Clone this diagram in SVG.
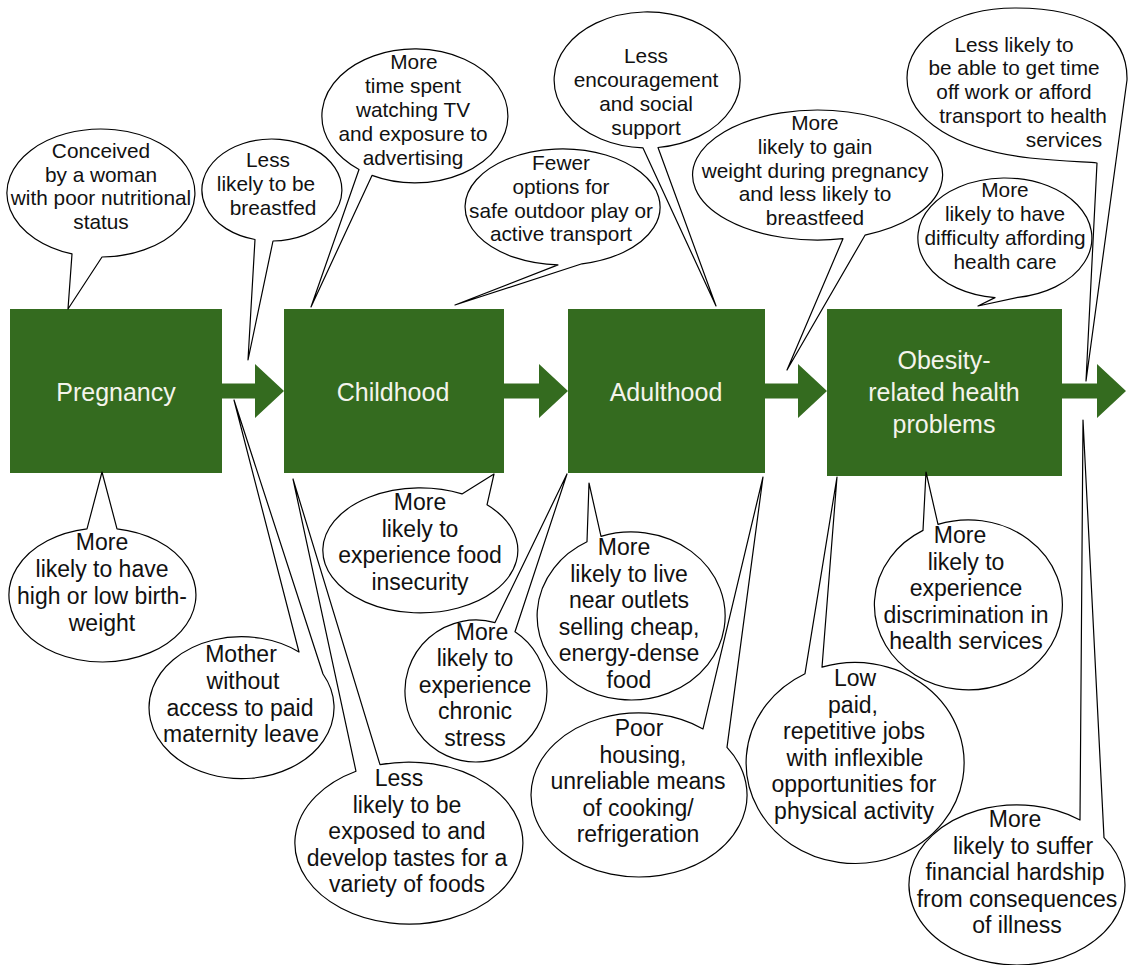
<svg xmlns="http://www.w3.org/2000/svg" width="1132" height="965" viewBox="0 0 1132 965">
<style>
.box{fill:#346b1f}
.lbl{font-family:"Liberation Sans",Arial,sans-serif;font-size:25px;fill:#f4f4ec;text-anchor:middle}
.bub{fill:none;stroke:#000;stroke-width:1.2;stroke-linejoin:round}
.tt{font-family:"Liberation Sans",Arial,sans-serif;font-size:20.8px;fill:#111;text-anchor:middle}
.bt{font-family:"Liberation Sans",Arial,sans-serif;font-size:23px;fill:#111;text-anchor:middle}
</style>
<rect width="1132" height="965" fill="#fff"/>
<g id="connectors" class="box">
<polygon points="222,383.5 255,383.5 255,364 284,391 255,418 255,398.5 222,398.5"/>
<polygon points="504,383.5 539,383.5 539,364 568,391 539,418 539,398.5 504,398.5"/>
<polygon points="765,383.5 798,383.5 798,364 827,391 798,418 798,398.5 765,398.5"/>
<polygon points="1062,383.5 1097,383.5 1097,364 1126,391 1097,418 1097,398.5 1062,398.5"/>
</g>
<g id="pregnancy"><rect class="box" x="10" y="309" width="212" height="164"/><text class="lbl" x="116" y="401">Pregnancy</text></g>
<g id="childhood"><rect class="box" x="284" y="309" width="220" height="164"/><text class="lbl" x="393" y="401">Childhood</text></g>
<g id="adulthood"><rect class="box" x="568" y="309" width="197" height="164"/><text class="lbl" x="666" y="401">Adulthood</text></g>
<g id="obesity"><rect class="box" x="827" y="309" width="235" height="167"/><text class="lbl"><tspan x="944" y="369">Obesity-</tspan><tspan x="944" y="401">related health</tspan><tspan x="944" y="433">problems</tspan></text></g>

<g id="b1"><path class="bub" d="M72,253.9 A94,64 0 1 1 102,257 L68,309 Z"/><text class="tt"><tspan x="101" y="158">Conceived</tspan><tspan x="101" y="181.5">by a woman</tspan><tspan x="101" y="205">with poor nutritional</tspan><tspan x="101" y="228.5">status</tspan></text></g>
<g id="b2"><path class="bub" d="M255,239.5 A70,51 0 1 1 273,241 L248,360 Z"/><text class="tt"><tspan x="268" y="167">Less</tspan><tspan x="266" y="191">likely to be</tspan><tspan x="273" y="215">breastfed</tspan></text></g>
<g id="b3"><path class="bub" d="M359,169.5 A93,67 0 1 1 372,175.4 L311,307 Z"/><text class="tt"><tspan x="414" y="68.5">More</tspan><tspan x="413" y="93">time spent</tspan><tspan x="413" y="117">watching TV</tspan><tspan x="413" y="141">and exposure to</tspan><tspan x="413" y="165">advertising</tspan></text></g>
<g id="b4"><path class="bub" d="M558,264.9 A97.5,58 0 1 1 582,263.8 L455,305 Z"/><text class="tt"><tspan x="561" y="169.5">Fewer</tspan><tspan x="561" y="193.5">options for</tspan><tspan x="561" y="217.5">safe outdoor play or</tspan><tspan x="561" y="241">active transport</tspan></text></g>
<g id="b5"><path class="bub" d="M643,147.9 A93,68 0 1 1 658,147.5 L716,306 Z"/><text class="tt"><tspan x="646" y="62.5">Less</tspan><tspan x="646" y="86.5">encouragement</tspan><tspan x="646" y="110.5">and social</tspan><tspan x="646" y="134.5">support</tspan></text></g>
<g id="b6"><path class="bub" d="M843,238.7 A125,65 0 1 1 865,235.2 L787,370 Z"/><text class="tt"><tspan x="815" y="129.5">More</tspan><tspan x="815" y="153.5">likely to gain</tspan><tspan x="815" y="177.5">weight during pregnancy</tspan><tspan x="815" y="201">and less likely to</tspan><tspan x="815" y="225">breastfeed</tspan></text></g>
<g id="b7"><path class="bub" d="M1127,80 C1128,35 1090,8 1015,8 C955,8 907,38 907,78 C907,122 960,150 1030,158 C1060,161 1085,162 1097,163 L1086,381 Z"/><text class="tt"><tspan x="1014" y="51.5">Less likely to</tspan><tspan x="1014" y="75">be able to get time</tspan><tspan x="1014" y="99">off work or afford</tspan><tspan x="1023" y="123">transport to health</tspan><tspan x="1064" y="147">services</tspan></text></g>
<g id="b8"><path class="bub" d="M995,297.6 A87,60 0 1 1 1018,297.3 L978,306 Z"/><text class="tt"><tspan x="1005" y="196.5">More</tspan><tspan x="1005" y="220.5">likely to have</tspan><tspan x="1005" y="244.5">difficulty affording</tspan><tspan x="1005" y="268.5">health care</tspan></text></g>

<g id="b9"><path class="bub" d="M117,528.8 A93.5,67 0 1 1 87,528.9 L102,472 Z"/><text class="bt"><tspan x="102" y="550">More</tspan><tspan x="102" y="577">likely to have</tspan><tspan x="102" y="604">high or low birth-</tspan><tspan x="102" y="631">weight</tspan></text></g>
<g id="b10"><path class="bub" d="M323,674 A92.5,71 0 1 1 299,652 L234,400 Z"/><text class="bt"><tspan x="241" y="662">Mother</tspan><tspan x="243" y="689">without</tspan><tspan x="240" y="716">access to paid</tspan><tspan x="241" y="742">maternity leave</tspan></text></g>
<g id="b11"><path class="bub" d="M380,764.7 A114,81 0 1 1 356,771.3 L293,479 Z"/><text class="bt"><tspan x="399" y="786">Less</tspan><tspan x="407" y="812.5">likely to be</tspan><tspan x="407" y="839">exposed to and</tspan><tspan x="407" y="865.5">develop tastes for a</tspan><tspan x="407" y="892">variety of foods</tspan></text></g>
<g id="b12"><path class="bub" d="M487,504.8 A97.5,62.5 0 1 1 462,493.9 L494,474 Z"/><text class="bt"><tspan x="420" y="510">More</tspan><tspan x="420" y="536.5">likely to</tspan><tspan x="420" y="563">experience food</tspan><tspan x="420" y="589.5">insecurity</tspan></text></g>
<g id="b13"><path class="bub" d="M515,631.7 A71,71 0 1 1 495,622.6 L567,474 Z"/><text class="bt"><tspan x="482" y="639.5">More</tspan><tspan x="475" y="666">likely to</tspan><tspan x="475" y="692.5">experience</tspan><tspan x="475" y="719">chronic</tspan><tspan x="475" y="745.5">stress</tspan></text></g>
<g id="b14"><path class="bub" d="M601,536.4 A94,84 0 1 1 587,541.8 L589,483 Z"/><text class="bt"><tspan x="624" y="555">More</tspan><tspan x="629" y="581.5">likely to live</tspan><tspan x="629" y="608">near outlets</tspan><tspan x="629" y="634.5">selling cheap,</tspan><tspan x="629" y="661">energy-dense</tspan><tspan x="629" y="687.5">food</tspan></text></g>
<g id="b15"><path class="bub" d="M727,747.4 A108,82 0 1 1 703,728.9 L763,477 Z"/><text class="bt"><tspan x="639" y="736">Poor</tspan><tspan x="643" y="762.5">housing,</tspan><tspan x="638" y="789">unreliable means</tspan><tspan x="638" y="815.5">of cooking/</tspan><tspan x="638" y="842">refrigeration</tspan></text></g>
<g id="b16"><path class="bub" d="M822,667.2 A109,100.5 0 1 1 805,673.7 L837,477 Z"/><text class="bt"><tspan x="855" y="686">Low</tspan><tspan x="853" y="712.5">paid,</tspan><tspan x="854" y="739">repetitive jobs</tspan><tspan x="855" y="765.5">with inflexible</tspan><tspan x="854" y="792">opportunities for</tspan><tspan x="854" y="818.5">physical activity</tspan></text></g>
<g id="b17"><path class="bub" d="M938,524.4 A94,85 0 1 1 923,530.4 L926,472 Z"/><text class="bt"><tspan x="960" y="543">More</tspan><tspan x="966" y="569.5">likely to</tspan><tspan x="966" y="596">experience</tspan><tspan x="966" y="622.5">discrimination in</tspan><tspan x="966" y="649">health services</tspan></text></g>
<g id="b18"><path class="bub" d="M1104,837.6 A108,80 0 1 1 1080,820 L1083,420 Z"/><text class="bt"><tspan x="1015" y="827">More</tspan><tspan x="1023" y="853.5">likely to suffer</tspan><tspan x="1015" y="880">financial hardship</tspan><tspan x="1017" y="906.5">from consequences</tspan><tspan x="1017" y="933">of illness</tspan></text></g>
</svg>
